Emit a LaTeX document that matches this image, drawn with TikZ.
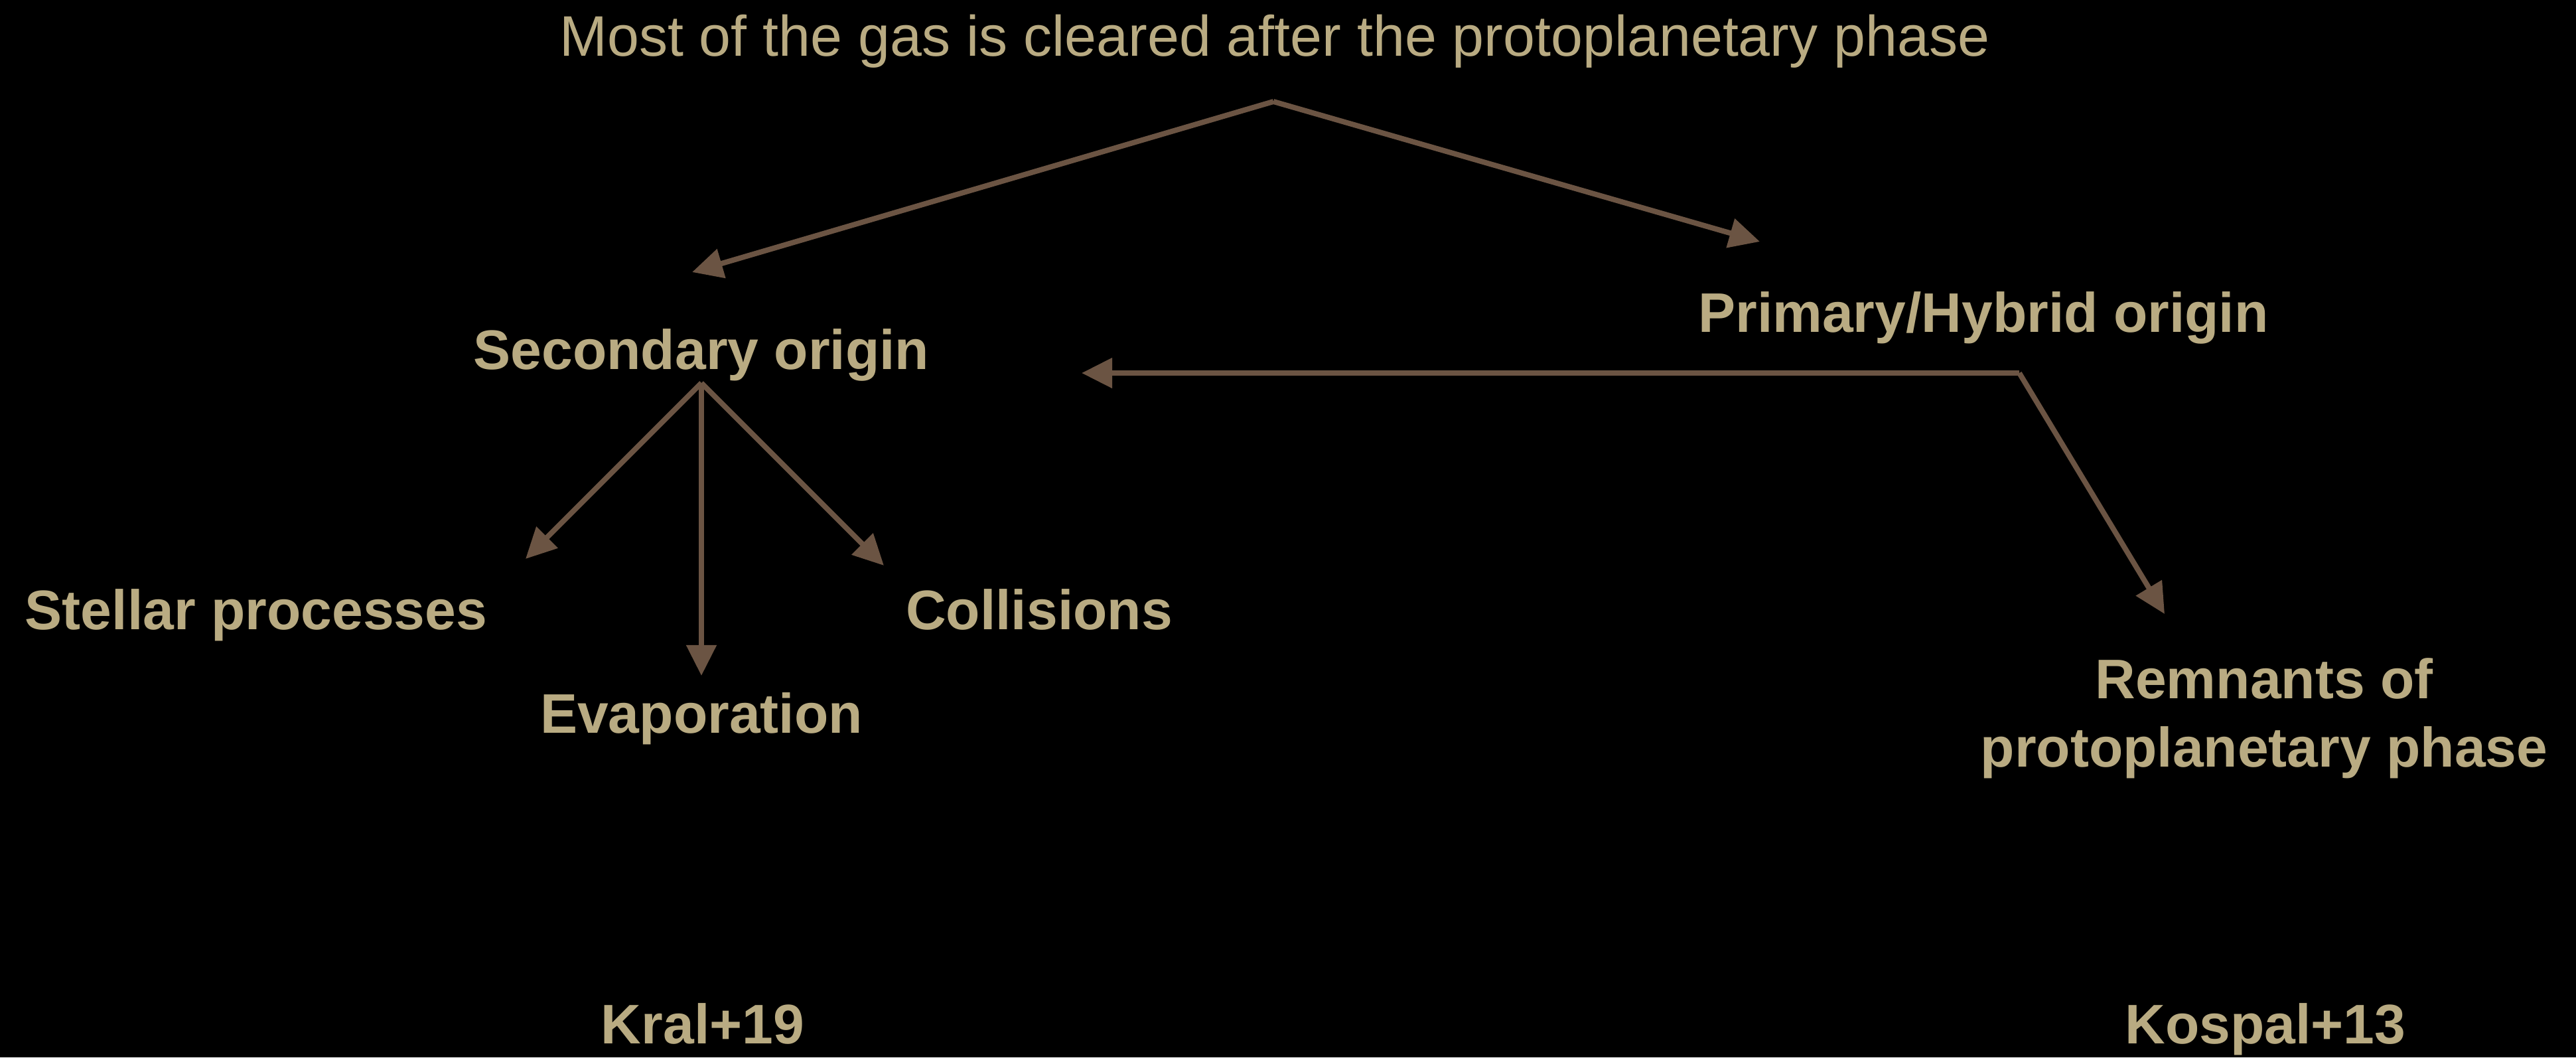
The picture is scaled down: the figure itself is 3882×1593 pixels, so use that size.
\documentclass[tikz,border=0pt]{standalone}
\usepackage{fontspec}
\setmainfont{Liberation Sans}
\usetikzlibrary{arrows.meta}
\definecolor{tan}{HTML}{B9AB82}
\definecolor{arrowbrown}{HTML}{6B5443}
\begin{document}
\begin{tikzpicture}[x=0.01cm,y=-0.01cm,
  titletext/.style={anchor=base,inner sep=0pt,text=tan,font=\fontsize{24.5pt}{29pt}\selectfont},
  boldtext/.style={anchor=base,inner sep=0pt,text=tan,font=\fontsize{23.9pt}{29pt}\selectfont\bfseries},
  conn/.style={draw=arrowbrown,line width=0.08cm,line join=round,
    -{Triangle[length=0.46cm,width=0.44cm,fill=arrowbrown]}}]
\fill[black] (0,0) rectangle (3882,1593);
\useasboundingbox (0,0) rectangle (3882,1593);

\node[titletext] (title) at (1921,84) {Most of the gas is cleared after the protoplanetary phase};
\node[boldtext] (sec) at (1057,556) {Secondary origin};
\node[boldtext] (prim) at (2989,500) {Primary/Hybrid origin};
\node[boldtext] (stel) at (386,948) {Stellar processes};
\node[boldtext] (evap) at (1057,1104) {Evaporation};
\node[boldtext] (coll) at (1566,948) {Collisions};
\node[boldtext] (rem1) at (3412,1052) {Remnants of};
\node[boldtext] (rem2) at (3412,1155) {protoplanetary phase};
\node[boldtext] (kral) at (1059,1572) {Kral+19};
\node[boldtext] (kosp) at (3414,1572) {Kospal+13};

\coordinate (top) at (1919,153);
\coordinate (secTip) at (1043,410);
\coordinate (primTip) at (2652,364);
\coordinate (corner) at (3043,562);
\coordinate (leftTip) at (1630,562);
\coordinate (remTip) at (3262,925);
\coordinate (fan) at (1057,577);
\coordinate (stelTip) at (792,842);
\coordinate (evapTip) at (1057,1018);
\coordinate (collTip) at (1332,852);

\draw[conn] (top) -- (secTip);
\draw[conn] (top) -- (primTip);
\draw[conn] (corner) -- (leftTip);
\draw[conn] (corner) -- (remTip);
\draw[conn] (fan) -- (stelTip);
\draw[conn] (fan) -- (evapTip);
\draw[conn] (fan) -- (collTip);
\end{tikzpicture}
\end{document}
